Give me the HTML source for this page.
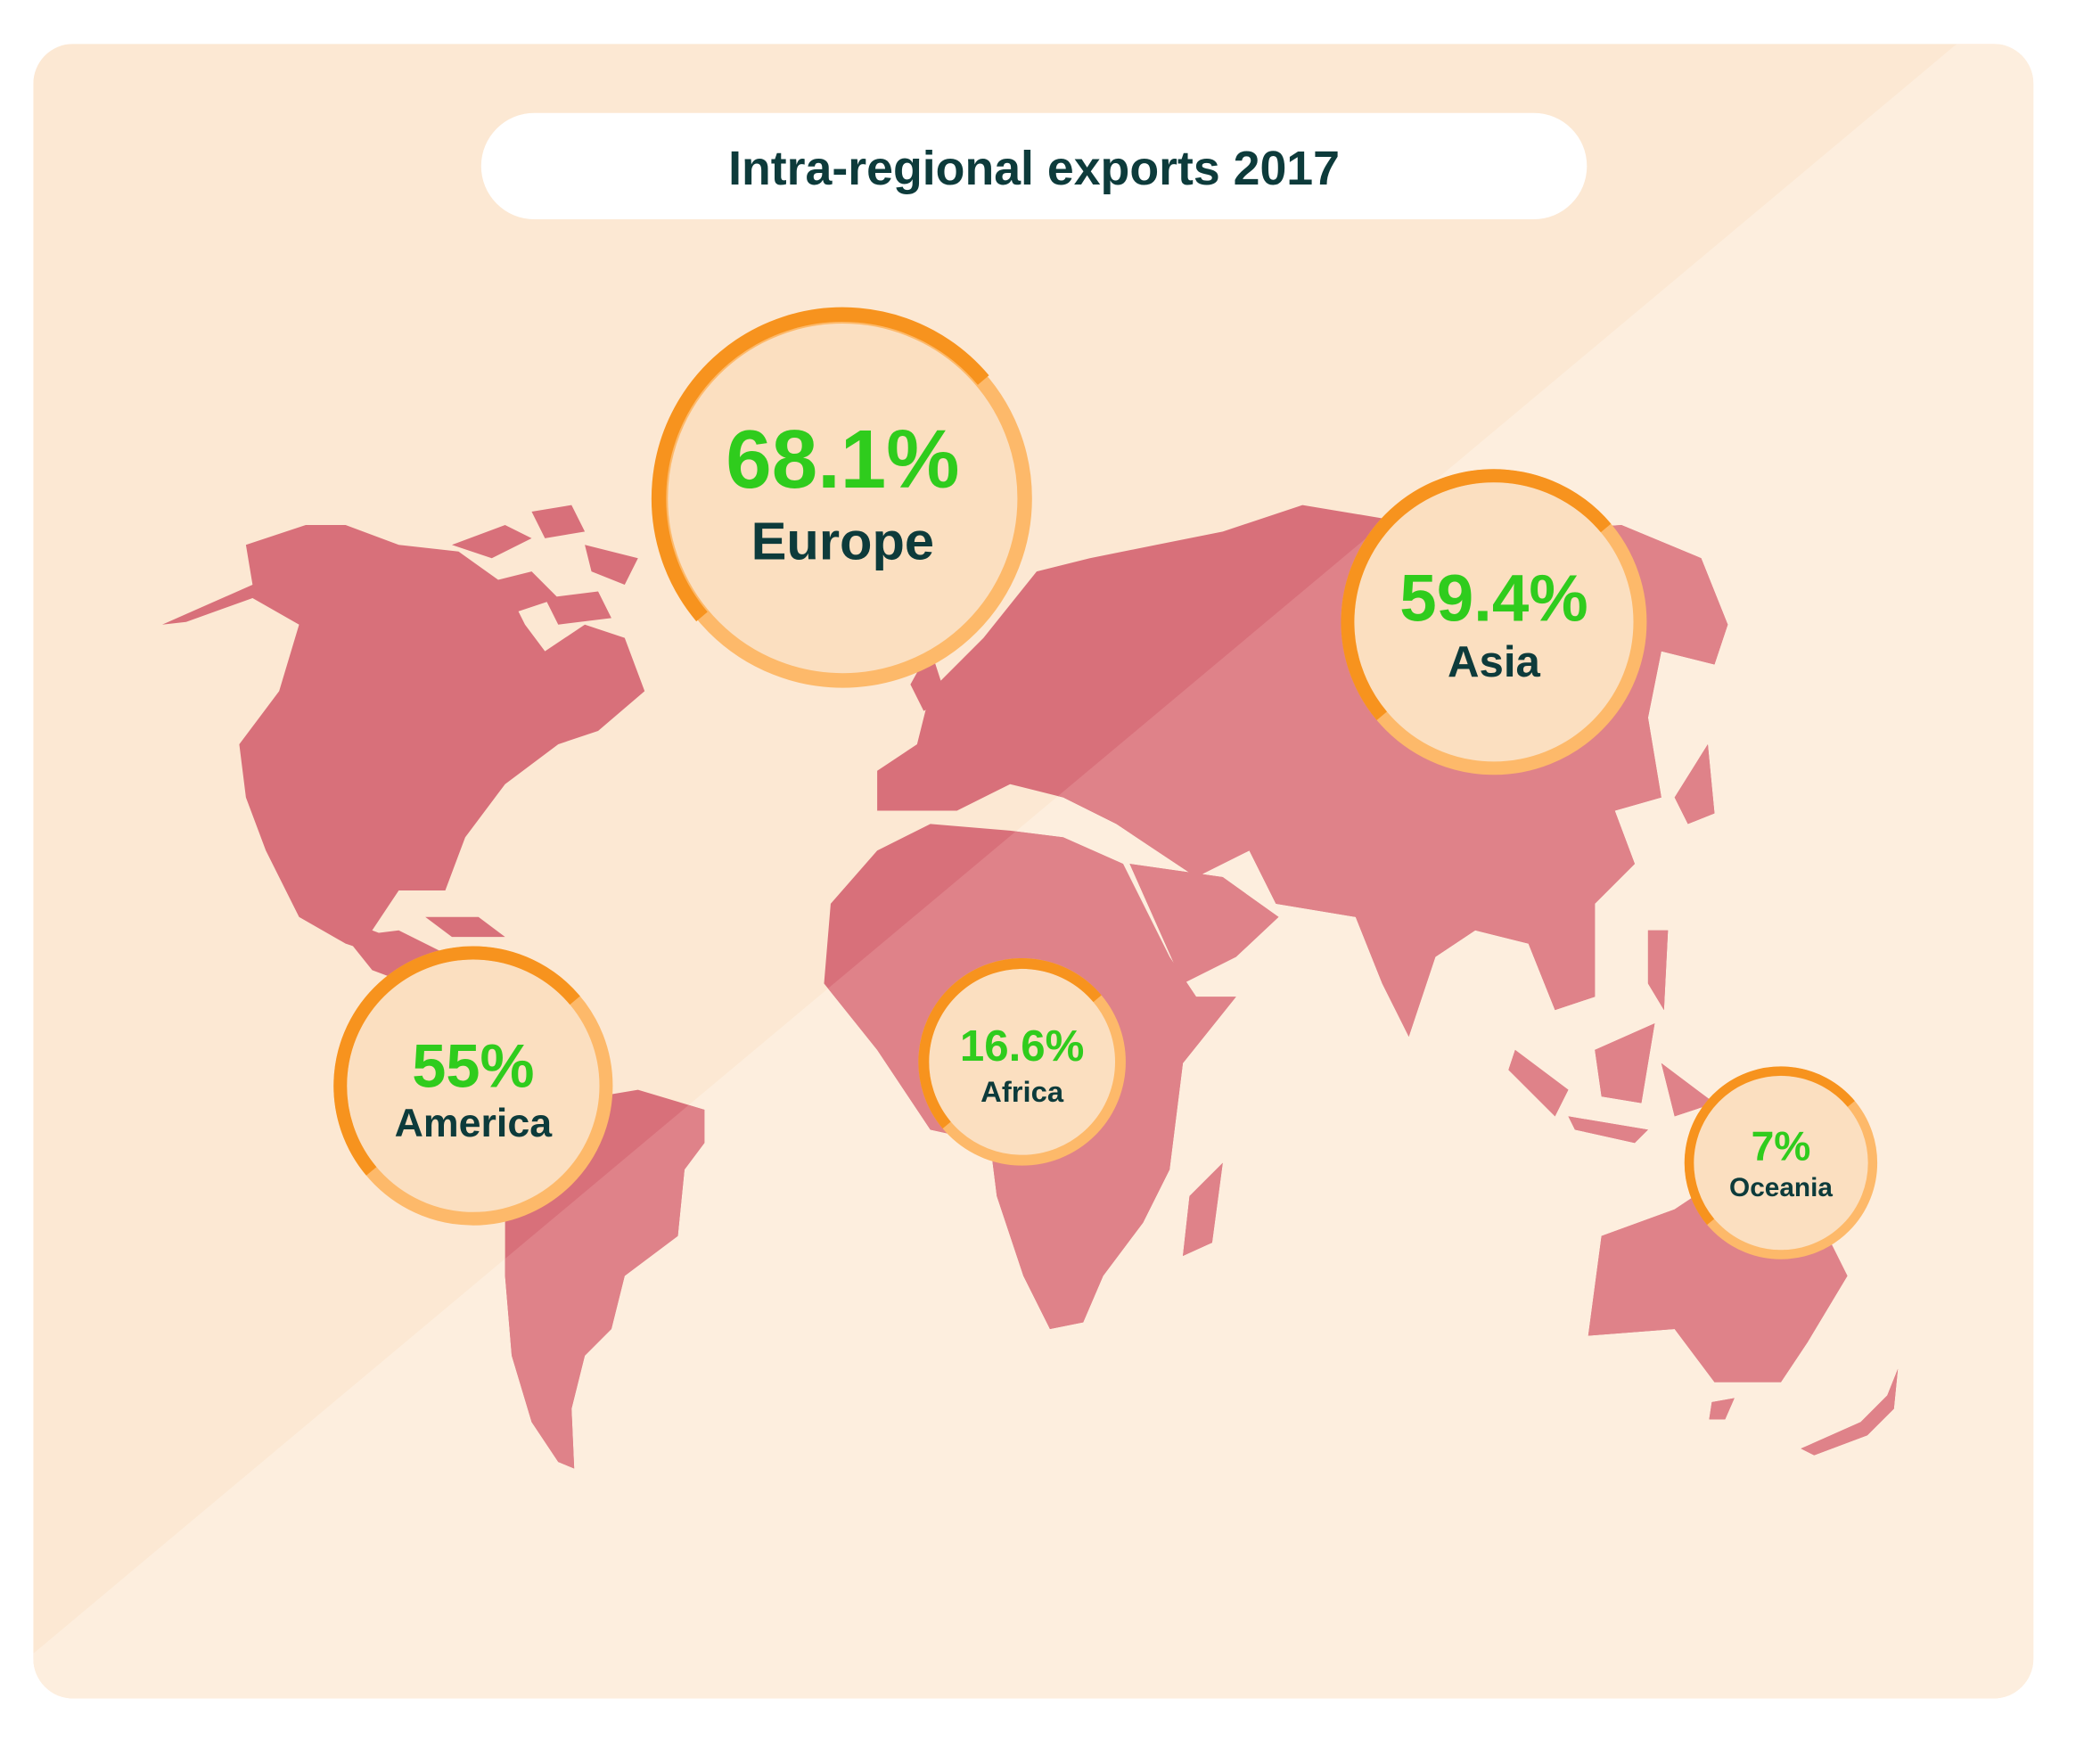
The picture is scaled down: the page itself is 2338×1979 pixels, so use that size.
<!DOCTYPE html>
<html><head><meta charset="utf-8"><style>
html,body{margin:0;padding:0;background:#fff;}
svg{display:block;}
text{font-family:"Liberation Sans",Arial,sans-serif;font-weight:bold;text-anchor:middle;}
</style></head><body>
<svg width="2338" height="1979" viewBox="0 0 1568 1327.3" xmlns="http://www.w3.org/2000/svg">
<defs>
<clipPath id="panel"><rect x="25" y="33" width="1505" height="1245" rx="30"/></clipPath>
<clipPath id="lower"><polygon points="-100,1400 1600,1400 1600,-60 1470,35 30,1240 -100,1350"/></clipPath>
<g id="map">
<path d="M122,470 L190,440 L185,410 L230,395 L260,395 L300,410 L345,415 L380,440 L395,470 L410,490 L440,470 L470,480 L485,520 L450,550 L420,560 L380,590 L350,630 L335,670 L300,670 L280,700 L320,715 L290,720 L260,710 L225,690 L200,640 L185,600 L180,560 L210,520 L225,470 L190,450 L140,468 Z"/>
<path d="M340,410 L380,395 L400,405 L370,420 Z M400,385 L430,380 L440,400 L410,405 Z M440,410 L480,420 L470,440 L445,430 Z M360,440 L400,430 L420,450 L390,460 Z M410,450 L450,445 L460,465 L420,470 Z"/>
<path d="M260,705 L300,700 L340,720 L380,750 L400,760 L360,770 L320,745 L280,730 Z M320,690 L360,690 L380,705 L340,705 Z"/>
<path d="M380,900 L420,830 L480,820 L530,835 L530,860 L515,880 L510,930 L470,960 L460,1000 L440,1020 L430,1060 L432,1105 L420,1100 L400,1070 L385,1020 L380,960 Z"/>
<path d="M620,740 L625,680 L660,640 L700,620 L760,625 L800,630 L845,650 L880,720 L900,750 L930,750 L890,800 L880,880 L860,920 L830,960 L815,995 L790,1000 L770,960 L750,900 L745,860 L700,850 L660,790 Z"/>
<path d="M895,900 L920,875 L912,935 L890,945 Z"/>
<path d="M660,610 L660,580 L690,560 L700,520 L740,480 L780,430 L820,420 L870,410 L920,400 L980,380 L1040,390 L1100,395 L1150,400 L1220,395 L1280,420 L1300,470 L1290,500 L1250,490 L1240,540 L1250,600 L1215,610 L1230,650 L1200,680 L1200,750 L1170,760 L1150,710 L1110,700 L1080,720 L1060,780 L1040,740 L1020,690 L960,680 L940,640 L900,660 L870,640 L840,620 L800,600 L760,590 L720,610 Z"/>
<path d="M850,650 L920,660 L962,690 L930,720 L890,740 Z"/>
<path d="M685,515 L700,488 L712,525 L695,535 Z M1260,600 L1285,560 L1290,612 L1270,620 Z"/>
<path d="M1140,790 L1180,820 L1170,840 L1135,805 Z M1180,840 L1240,850 L1230,860 L1185,850 Z M1200,790 L1245,770 L1235,830 L1205,825 Z M1250,800 L1290,830 L1260,840 Z M1240,700 L1255,700 L1252,760 L1240,740 Z"/>
<path d="M1195,1005 L1205,930 L1260,910 L1290,890 L1330,900 L1360,900 L1390,960 L1360,1010 L1340,1040 L1290,1040 L1260,1000 Z M1288,1055 L1305,1052 L1298,1068 L1286,1068 Z"/>
<path d="M1355,1090 L1400,1070 L1420,1050 L1428,1030 L1425,1060 L1405,1080 L1365,1095 Z"/>
</g>
</defs>
<g clip-path="url(#panel)">
<rect x="25" y="33" width="1505" height="1245" fill="#fce8d3"/>
<rect x="25" y="33" width="1505" height="1245" fill="#fdeede" clip-path="url(#lower)"/>
</g>
<use href="#map" fill="#d8707a"/>
<use href="#map" fill="#df8289" clip-path="url(#lower)"/>
<rect x="362" y="85" width="832" height="80" rx="40" fill="#fff"/>
<text x="778" y="139" font-size="36" fill="#0d3b3b">Intra-regional exports 2017</text>

<g>
<circle cx="634" cy="375" r="137" fill="#fbdfc0" stroke="#fdb96a" stroke-width="11"/>
<path d="M739.9,286 A137,137 0 0,0 528.1,464" fill="none" stroke="#f7931e" stroke-width="11"/>
<text x="634" y="367" font-size="62" fill="#2fcc1d">68.1%</text>
<text x="634" y="421" font-size="40" fill="#0d3b3b">Europe</text>
</g>
<g>
<circle cx="1124" cy="468" r="110" fill="#fbdfc0" stroke="#fdb96a" stroke-width="10"/>
<path d="M1208.3,397.3 A110,110 0 0,0 1039.7,538.7" fill="none" stroke="#f7931e" stroke-width="10"/>
<text x="1124" y="467" font-size="50" fill="#2fcc1d">59.4%</text>
<text x="1124" y="509" font-size="33" fill="#0d3b3b">Asia</text>
</g>
<g>
<circle cx="356" cy="817" r="100" fill="#fbdfc0" stroke="#fdb96a" stroke-width="10"/>
<path d="M432.6,752.7 A100,100 0 0,0 279.4,881.3" fill="none" stroke="#f7931e" stroke-width="10"/>
<text x="356" y="818" font-size="46" fill="#2fcc1d">55%</text>
<text x="356" y="855" font-size="30" fill="#0d3b3b">America</text>
</g>
<g>
<circle cx="769" cy="799" r="74" fill="#fbdfc0" stroke="#fdb96a" stroke-width="8"/>
<path d="M825.7,751.4 A74,74 0 0,0 712.3,846.6" fill="none" stroke="#f7931e" stroke-width="8"/>
<text x="769" y="798" font-size="33" fill="#2fcc1d">16.6%</text>
<text x="769" y="829" font-size="22" fill="#0d3b3b">Africa</text>
</g>
<g>
<circle cx="1340" cy="875" r="69" fill="#fbdfc0" stroke="#fdb96a" stroke-width="7"/>
<path d="M1392.9,830.6 A69,69 0 0,0 1287.1,919.4" fill="none" stroke="#f7931e" stroke-width="7"/>
<text x="1340" y="873" font-size="31" fill="#2fcc1d">7%</text>
<text x="1340" y="900" font-size="20" fill="#0d3b3b">Oceania</text>
</g>
</svg>
</body></html>
